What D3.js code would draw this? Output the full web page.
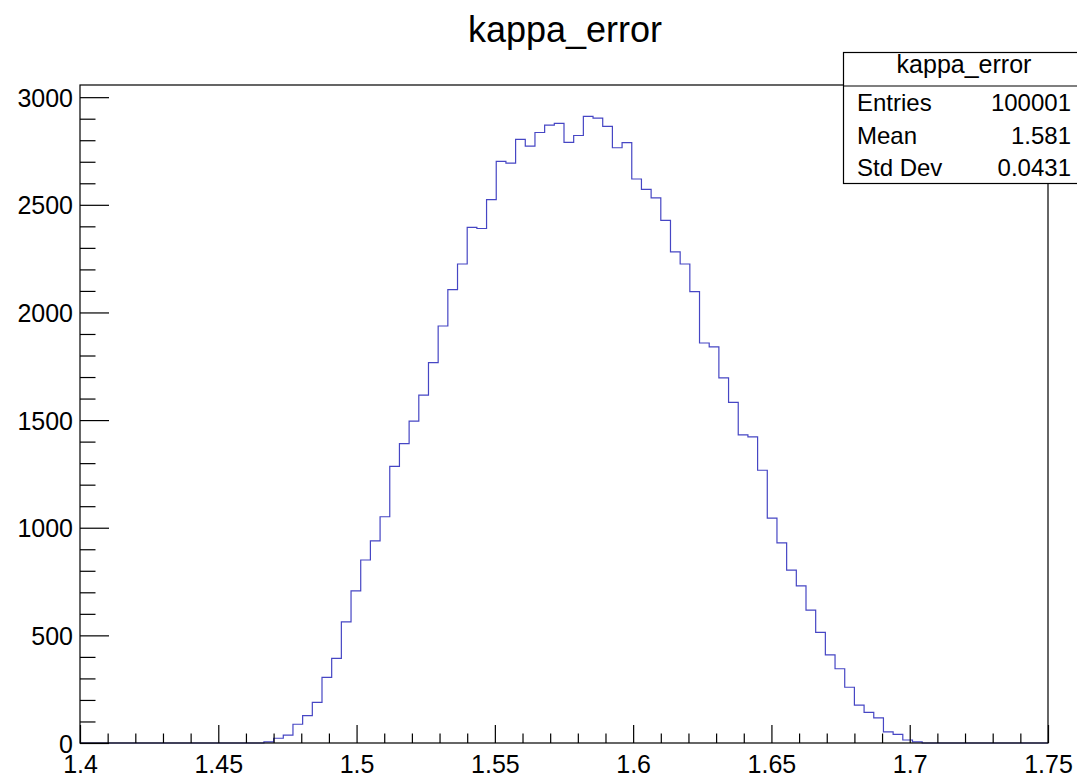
<!DOCTYPE html>
<html>
<head>
<meta charset="utf-8">
<script src="https://cdn.jsdelivr.net/npm/d3@7"></script>
<style>
  html, body { margin: 0; padding: 0; background: #ffffff; }
  svg { display: block; }
  text { font-family: "Liberation Sans", Arial, Helvetica, sans-serif; fill: #000; }
</style>
</head>
<body>
<svg id="chart" width="1077" height="775"></svg>
<script>
// Histogram "kappa_error": 100 bins over [1.4, 1.75]
const histTitle = "kappa_error";
const binLow = 1.4;
const binHigh = 1.75;
const binCounts = [
  0, 0, 0, 0, 0, 0, 0, 0, 0, 0,
  0, 0, 0, 0, 0, 0, 0, 0, 0, 5,
  22, 37, 87, 127, 189, 305, 393, 563, 707, 850,
  939, 1051, 1285, 1391, 1495, 1616, 1767, 1937, 2106, 2225,
  2395, 2390, 2524, 2702, 2694, 2804, 2773, 2836, 2870, 2878,
  2790, 2822, 2911, 2903, 2864, 2765, 2789, 2620, 2572, 2532,
  2428, 2281, 2225, 2097, 1858, 1840, 1696, 1582, 1431, 1422,
  1267, 1045, 930, 803, 730, 617, 514, 409, 345, 259,
  176, 142, 117, 52, 40, 14, 5, 0, 0, 0,
  0, 0, 0, 0, 0, 0, 0, 0, 0, 0
];

// Axis ticks and labels
const xMajorTicks = [1.4, 1.45, 1.5, 1.55, 1.6, 1.65, 1.7, 1.75];
const xTickLabels = ["1.4", "1.45", "1.5", "1.55", "1.6", "1.65", "1.7", "1.75"];
const xMinorTicks = [1.41, 1.42, 1.43, 1.44, 1.46, 1.47, 1.48, 1.49, 1.51, 1.52, 1.53, 1.54,
  1.56, 1.57, 1.58, 1.59, 1.61, 1.62, 1.63, 1.64, 1.66, 1.67, 1.68, 1.69, 1.71, 1.72, 1.73, 1.74];
const yMajorTicks = [0, 500, 1000, 1500, 2000, 2500, 3000];
const yTickLabels = ["0", "500", "1000", "1500", "2000", "2500", "3000"];
const yMinorTicks = [100, 200, 300, 400, 600, 700, 800, 900, 1100, 1200, 1300, 1400,
  1600, 1700, 1800, 1900, 2100, 2200, 2300, 2400, 2600, 2700, 2800, 2900];

// Statistics box
const statNames = ["Entries", "Mean", "Std Dev"];
const statValues = ["100001", "1.581", "0.0431"];

const svg = d3.select("#chart");
const frame = { left: 80, right: 1048, top: 85, bottom: 743 };

const x = d3.scaleLinear().domain([binLow, binHigh]).range([frame.left, frame.right]);
const yTop = d3.max(binCounts) * 1.05;
const y = d3.scaleLinear().domain([0, yTop]).range([frame.bottom, frame.top]);

// Title
svg.append("text")
  .attr("x", 565).attr("y", 42)
  .attr("text-anchor", "middle")
  .style("font-size", "36px")
  .text(histTitle);

// Histogram outline as a step path
const nBins = binCounts.length;
const edges = d3.range(nBins + 1).map(i => binLow + (binHigh - binLow) * i / nBins);
const pts = [[x(edges[0]), y(0)]];
binCounts.forEach((c, i) => {
  pts.push([x(edges[i]), y(c)]);
  pts.push([x(edges[i + 1]), y(c)]);
});
pts.push([x(edges[nBins]), y(0)]);
svg.append("path")
  .attr("d", d3.line()(pts))
  .attr("fill", "none")
  .attr("stroke", "#4646c4")
  .attr("stroke-width", 1.2);

// Frame
svg.append("rect")
  .attr("x", frame.left).attr("y", frame.top)
  .attr("width", frame.right - frame.left).attr("height", frame.bottom - frame.top)
  .attr("fill", "none").attr("stroke", "#000").attr("stroke-width", 1.2);

// X axis: major ticks with labels, minor ticks without
const gx = svg.append("g").attr("transform", `translate(0,${frame.bottom})`);
gx.call(d3.axisBottom(x).tickValues(xMajorTicks).tickSize(-18).tickPadding(12)
  .tickFormat((d, i) => xTickLabels[i]));
gx.append("g").call(d3.axisBottom(x).tickValues(xMinorTicks).tickSize(-9.5).tickFormat(""));

// Y axis
const gy = svg.append("g").attr("transform", `translate(${frame.left},0)`);
gy.call(d3.axisLeft(y).tickValues(yMajorTicks).tickSize(-29).tickPadding(7)
  .tickFormat((d, i) => yTickLabels[i]));
gy.append("g").call(d3.axisLeft(y).tickValues(yMinorTicks).tickSize(-15.5).tickFormat(""));

svg.selectAll(".domain").remove();
svg.selectAll(".tick line").attr("stroke", "#000").attr("stroke-width", 1.2);
gx.selectAll(".tick text").style("font-size", "25px").attr("fill", "#000");
gy.selectAll(".tick text").style("font-size", "25px").attr("fill", "#000").attr("dy", "0.36em");

// Stats box
const box = { x: 843.5, y: 52.5, w: 240, h: 131 };
svg.append("rect")
  .attr("x", box.x).attr("y", box.y).attr("width", box.w).attr("height", box.h)
  .attr("fill", "#fff").attr("stroke", "#000").attr("stroke-width", 1.2);
svg.append("line")
  .attr("x1", box.x).attr("x2", box.x + box.w)
  .attr("y1", 86).attr("y2", 86)
  .attr("stroke", "#000").attr("stroke-width", 1.2);
svg.append("text")
  .attr("x", 964).attr("y", 73)
  .attr("text-anchor", "middle")
  .style("font-size", "25px")
  .text(histTitle);
const rowBase = [111, 144, 176];
statNames.forEach((n, i) => {
  svg.append("text").attr("x", 857).attr("y", rowBase[i])
    .style("font-size", "24px").text(n);
  svg.append("text").attr("x", 1071).attr("y", rowBase[i])
    .attr("text-anchor", "end")
    .style("font-size", "24px").text(statValues[i]);
});
</script>
</body>
</html>
